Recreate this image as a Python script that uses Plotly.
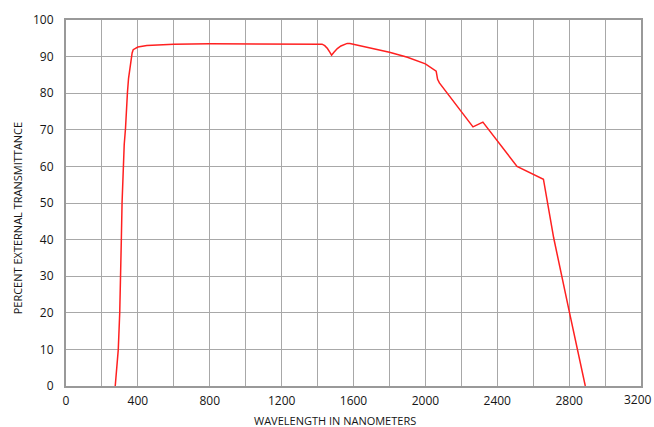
import plotly.graph_objects as go

wavelength_nm = [274, 291, 299, 305, 308, 312, 318, 324, 331, 336, 342, 348, 355,
                 362, 368, 374, 385, 400, 450, 500, 600, 800,
                 1000, 1200, 1400, 1425, 1440, 1455, 1468, 1478, 1490, 1510, 1530, 1550, 1565,
                 1580, 1600, 1700, 1800, 1900, 2000, 2060, 2068, 2078, 2265, 2320, 2510, 2657,
                 2714, 2800, 2890]
transmittance = [0, 10, 20, 30, 40, 50, 60, 66, 70.3, 76, 80.2, 84, 86.9,
                 89.5, 91, 91.9, 92.3, 92.6, 93.0, 93.2, 93.4, 93.5,
                 93.5, 93.6, 93.6, 93.4, 93.0, 92.2, 91.2, 90.4, 91.1, 92.2, 92.9, 93.4, 93.6,
                 93.6, 93.4, 92.4, 91.2, 89.8, 88.0, 86.0, 83.8, 82.8, 70.8, 72.1, 60.0, 56.5,
                 40.5, 20.5, 0]

x_ticks = list(range(0, 3201, 200))
x_ticktext = [str(v) if v % 400 == 0 else "" for v in x_ticks]
y_ticks = list(range(0, 101, 10))
edge_tick = 3200  # drawn as an annotation so it is not dropped at the figure edge
x_ticktext[x_ticks.index(edge_tick)] = ""

x_title = "WAVELENGTH IN NANOMETERS"
y_title = "PERCENT EXTERNAL TRANSMITTANCE"

FONT = "Open Sans"
TXT = "#151515"

fig = go.Figure()
fig.add_trace(go.Scatter(
    x=wavelength_nm, y=transmittance, mode="lines",
    line=dict(color="#ff2020", width=1.5),
    showlegend=False, hoverinfo="skip"))

fig.update_layout(
    width=654, height=427,
    margin=dict(l=66, r=11, t=15, b=41),
    paper_bgcolor="white", plot_bgcolor="white",
    font=dict(family=FONT, size=12, color=TXT),
    xaxis=dict(range=[0, 3200], tickvals=x_ticks, ticktext=x_ticktext,
               showgrid=True, gridcolor="#a8a8a8", gridwidth=1,
               showline=True, linecolor="#999999", linewidth=2, mirror=True,
               ticks="", ticklabelstandoff=3, zeroline=False,
               tickfont=dict(family=FONT, size=12, color=TXT)),
    yaxis=dict(range=[0, 100], tickvals=y_ticks,
               showgrid=True, gridcolor="#a8a8a8", gridwidth=1,
               showline=True, linecolor="#999999", linewidth=2, mirror=True,
               ticks="", ticklabelstandoff=8, zeroline=False,
               tickfont=dict(family=FONT, size=12, color=TXT)),
    annotations=[
        dict(text=str(edge_tick), xref="x", yref="paper", x=edge_tick, y=0,
             xanchor="center", yanchor="top", yshift=-3, xshift=-3, showarrow=False,
             font=dict(family=FONT, size=12, color=TXT)),
        dict(text=x_title, xref="paper", yref="paper", x=0.467, y=-0.094,
             xanchor="center", yanchor="middle", showarrow=False,
             font=dict(family=FONT, size=11, color=TXT)),
        dict(text=y_title, xref="paper", yref="paper", x=-0.084, y=0.46,
             xanchor="center", yanchor="middle", textangle=-90, showarrow=False,
             font=dict(family=FONT, size=11, color=TXT)),
    ],
)

fig.write_html(
    "out.html",
    config={"displayModeBar": False},
    post_script="document.body.style.margin='0';document.body.style.overflow='hidden';",
)
